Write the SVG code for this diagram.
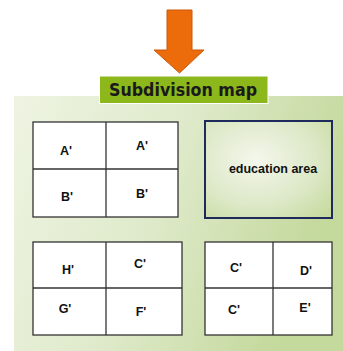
<svg xmlns="http://www.w3.org/2000/svg" width="343" height="351" viewBox="0 0 343 351">
<defs>
<linearGradient id="panel" x1="0" y1="0" x2="1" y2="0.3">
<stop offset="0" stop-color="#eef4e2"/>
<stop offset="0.5" stop-color="#dfeacb"/>
<stop offset="1" stop-color="#c4d99c"/>
</linearGradient>
<radialGradient id="edu" cx="0.4" cy="0.4" r="0.8">
<stop offset="0" stop-color="#f4f7ec"/>
<stop offset="0.6" stop-color="#dce8c6"/>
<stop offset="1" stop-color="#c8da9e"/>
</radialGradient>
<style>
.cell{fill:#ffffff;stroke:#333333;stroke-width:1.3}
.div{stroke:#333333;stroke-width:1.3}
.lbl{font-family:"Liberation Sans",Arial,sans-serif;font-weight:bold;font-size:12.5px;fill:#111111;text-anchor:middle}
</style>
</defs>
<rect x="0" y="0" width="343" height="351" fill="#ffffff"/>
<g id="panel-bg">
<rect x="14" y="96" width="329" height="255" fill="url(#panel)"/>
</g>
<g id="connectors">
<polygon points="167,10 192,10 192,50 204,50 179.5,73 154,50 167,50" fill="#ec6c0c" stroke="#c9580a" stroke-width="1"/>
</g>
<g id="title">
<rect x="99.5" y="76" width="168.5" height="27.5" fill="#8cb81c" stroke="#ffffff" stroke-width="1"/>
<text x="183" y="96" text-anchor="middle" font-family="'DejaVu Sans',Verdana,sans-serif" font-weight="bold" font-size="17" textLength="148" lengthAdjust="spacingAndGlyphs" fill="#1a1a1a">Subdivision map</text>
</g>
<g id="grid1">
<rect class="cell" x="33" y="122" width="145" height="95"/>
<line class="div" x1="106" y1="122" x2="106" y2="217"/>
<line class="div" x1="33" y1="169" x2="178" y2="169" stroke-width="2"/>
<text class="lbl" x="66" y="155">A'</text>
<text class="lbl" x="142" y="150">A'</text>
<text class="lbl" x="67" y="201">B'</text>
<text class="lbl" x="142" y="198">B'</text>
</g>
<g id="education-area">
<rect x="205" y="121" width="127" height="97" fill="url(#edu)" stroke="#1f2a5c" stroke-width="2"/>
<text class="lbl" x="273" y="173">education area</text>
</g>
<g id="grid2">
<rect class="cell" x="33" y="242" width="149" height="93"/>
<line class="div" x1="106" y1="242" x2="106" y2="335"/>
<line class="div" x1="33" y1="288" x2="182" y2="288"/>
<text class="lbl" x="68" y="274">H'</text>
<text class="lbl" x="140" y="268">C'</text>
<text class="lbl" x="65" y="313">G'</text>
<text class="lbl" x="141" y="316">F'</text>
</g>
<g id="grid3">
<rect class="cell" x="205" y="242" width="127" height="93"/>
<line class="div" x1="273" y1="242" x2="273" y2="335"/>
<line class="div" x1="205" y1="288" x2="332" y2="288"/>
<text class="lbl" x="236" y="272">C'</text>
<text class="lbl" x="306" y="275">D'</text>
<text class="lbl" x="234" y="314">C'</text>
<text class="lbl" x="305" y="312">E'</text>
</g>
</svg>
